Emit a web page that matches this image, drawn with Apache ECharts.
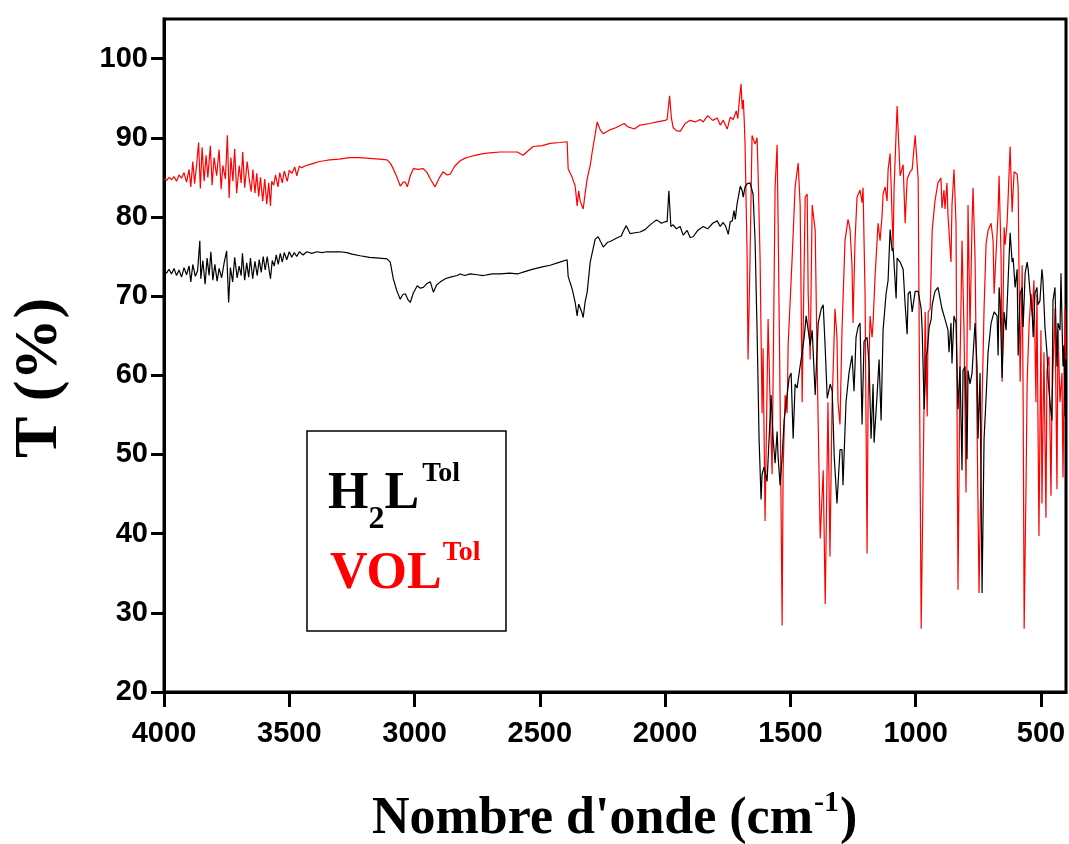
<!DOCTYPE html>
<html><head><meta charset="utf-8">
<script src="https://cdn.jsdelivr.net/npm/echarts@6/dist/echarts.min.js"></script>
<style>html,body{margin:0;padding:0;background:#fff}#c{width:1069px;height:844px}</style>
</head><body><div id="c"></div>
<script>
const xTickValues = [4000,3500,3000,2500,2000,1500,1000,500];
const yTickValues = [20,30,40,50,60,70,80,90,100];
const legendNames = ['H','2','L','Tol','VOL','Tol'];
const axisTitles = ["Nombre d'onde (cm", '-1', ')', 'T (%)'];

const h2lTol = [
[4000,73.2],[3990,72.9],[3980,73.4],[3970,72.8],[3960,73.5],[3950,72.6],[3940,73.3],[3930,72.4],[3920,73.6],[3910,72.7],[3900,73.8],[3893,71.8],[3885,74.0],[3875,72.5],[3866,73.2],[3857,77.0],[3853,72.2],[3845,74.5],[3836,71.5],[3828,74.8],[3820,72.6],[3813,75.6],[3805,72.0],[3797,74.0],[3788,71.9],[3780,73.5],[3770,72.3],[3760,74.2],[3750,75.7],[3742,69.2],[3735,73.6],[3726,71.8],[3718,74.9],[3708,72.3],[3700,73.8],[3692,72.6],[3687,75.4],[3678,72.0],[3670,74.2],[3662,72.4],[3655,74.8],[3646,72.2],[3637,74.4],[3628,72.6],[3620,74.6],[3612,73.0],[3604,75.0],[3596,73.3],[3588,75.0],[3580,73.2],[3575,72.2],[3568,74.5],[3560,73.8],[3552,75.2],[3544,74.0],[3536,75.4],[3528,74.3],[3520,75.5],[3510,74.6],[3500,75.6],[3490,74.9],[3480,75.5],[3470,75.0],[3460,75.6],[3445,75.2],[3430,75.6],[3410,75.4],[3390,75.6],[3370,75.5],[3350,75.6],[3320,75.6],[3297,75.6],[3270,75.5],[3250,75.3],[3217,75.1],[3180,74.9],[3140,74.8],[3110,74.7],[3097,74.3],[3085,72.2],[3070,70.6],[3057,69.6],[3047,70.2],[3037,70.3],[3027,69.6],[3017,69.2],[3005,70.4],[2989,71.3],[2977,71.0],[2965,71.1],[2950,71.6],[2937,71.8],[2925,70.5],[2912,71.4],[2897,71.8],[2877,72.2],[2857,72.4],[2830,72.6],[2818,72.8],[2800,72.6],[2778,72.8],[2750,72.7],[2726,72.6],[2690,72.8],[2658,72.8],[2620,72.9],[2590,72.8],[2560,73.1],[2527,73.4],[2490,73.7],[2459,73.9],[2420,74.3],[2391,74.6],[2387,72.5],[2371,70.9],[2359,69.2],[2351,67.5],[2345,69.0],[2339,69.2],[2333,68.0],[2327,67.3],[2319,69.3],[2311,70.5],[2299,74.3],[2279,77.2],[2267,77.5],[2247,76.2],[2230,76.8],[2219,76.9],[2195,77.3],[2175,77.6],[2167,78.2],[2155,78.9],[2140,77.9],[2120,78.0],[2100,78.1],[2080,78.4],[2060,79.0],[2040,79.5],[2032,79.6],[2015,79.2],[2000,79.4],[1992,79.4],[1985,83.3],[1977,78.8],[1968,79.0],[1955,78.5],[1940,78.8],[1928,77.7],[1912,78.3],[1900,77.4],[1888,77.5],[1870,78.3],[1848,78.8],[1830,78.5],[1810,79.2],[1792,79.5],[1780,78.8],[1768,79.3],[1758,78.8],[1748,77.8],[1740,79.4],[1732,79.5],[1725,80.8],[1720,79.7],[1713,81.6],[1708,81.5],[1700,83.9],[1693,83.4],[1688,82.5],[1681,83.8],[1672,84.2],[1661,84.3],[1649,82.9],[1641,77.1],[1633,65.7],[1625,52.0],[1617,44.3],[1613,47.5],[1605,48.4],[1593,46.6],[1585,52.0],[1577,57.5],[1569,52.0],[1561,48.9],[1553,52.9],[1549,49.7],[1541,46.1],[1533,49.7],[1525,54.3],[1513,57.5],[1505,59.7],[1497,60.3],[1489,52.0],[1481,58.9],[1473,58.4],[1465,60.3],[1453,62.9],[1445,64.8],[1437,67.5],[1429,65.7],[1421,63.8],[1413,65.7],[1401,57.5],[1389,66.6],[1377,68.4],[1369,68.9],[1361,63.4],[1353,57.1],[1341,58.9],[1333,58.0],[1325,49.7],[1314,43.8],[1302,50.6],[1294,50.6],[1290,46.1],[1278,56.6],[1266,60.3],[1254,62.5],[1246,58.0],[1238,64.8],[1230,66.1],[1222,66.6],[1214,53.8],[1206,64.3],[1194,64.8],[1186,61.5],[1178,52.0],[1170,58.9],[1166,51.5],[1154,57.5],[1146,62.0],[1138,54.3],[1130,65.7],[1118,70.3],[1110,72.0],[1102,78.4],[1094,75.7],[1090,76.1],[1078,69.7],[1074,74.8],[1062,74.3],[1050,73.4],[1042,68.9],[1034,65.2],[1030,70.3],[1022,70.6],[1014,68.0],[1002,70.6],[990,70.6],[978,68.4],[974,65.7],[966,55.7],[958,62.5],[954,62.9],[946,66.1],[938,67.1],[934,68.9],[923,70.6],[911,71.1],[895,68.4],[883,67.1],[871,65.7],[867,62.9],[859,66.6],[855,61.5],[847,67.5],[839,66.6],[831,55.7],[823,61.1],[815,48.0],[811,60.6],[803,61.1],[795,49.4],[791,60.6],[783,58.9],[775,60.3],[771,62.5],[763,66.6],[755,61.1],[751,52.0],[743,60.3],[735,32.5],[727,52.0],[719,57.1],[711,62.9],[699,66.6],[687,68.0],[675,67.5],[671,62.5],[667,71.1],[663,69.4],[655,59.7],[647,68.0],[639,65.7],[631,72.0],[623,78.0],[615,74.3],[611,74.8],[603,71.1],[595,73.4],[591,62.5],[583,70.3],[575,71.1],[571,66.1],[563,72.9],[555,74.3],[551,73.4],[543,70.3],[535,68.0],[531,64.8],[524,70.3],[516,71.1],[512,68.9],[504,69.4],[496,73.4],[492,72.0],[484,66.1],[476,62.9],[472,59.7],[464,56.6],[456,54.3],[452,69.4],[444,71.1],[436,61.1],[432,66.6],[424,65.7],[420,72.9],[412,61.1],[408,63.8],[404,54.8],[400,57.0]
];

const volTol = [
[4000,84.8],[3990,84.6],[3980,85.0],[3970,84.7],[3960,85.1],[3950,84.5],[3940,85.3],[3930,84.9],[3920,85.6],[3910,84.4],[3900,86.0],[3893,83.8],[3885,87.0],[3878,84.2],[3870,86.5],[3862,89.4],[3855,83.6],[3848,88.8],[3840,84.5],[3832,87.8],[3825,85.0],[3815,89.0],[3808,84.0],[3800,87.5],[3790,85.2],[3780,88.5],[3772,83.5],[3765,86.5],[3755,84.8],[3747,90.3],[3740,82.4],[3733,87.5],[3725,84.5],[3718,88.6],[3710,83.0],[3700,86.5],[3692,84.3],[3686,88.2],[3678,83.7],[3668,87.0],[3660,84.8],[3652,83.2],[3645,86.0],[3637,83.0],[3630,85.5],[3622,82.6],[3615,85.0],[3606,82.0],[3598,84.8],[3590,81.6],[3582,84.3],[3575,81.4],[3570,84.5],[3562,84.0],[3555,85.3],[3545,83.8],[3538,85.6],[3528,84.3],[3520,85.8],[3508,84.5],[3500,85.9],[3490,85.5],[3478,86.3],[3470,85.2],[3460,86.4],[3450,86.2],[3440,86.4],[3420,86.6],[3400,86.8],[3380,87.0],[3360,87.1],[3340,87.2],[3300,87.3],[3260,87.5],[3220,87.5],[3180,87.4],[3140,87.3],[3110,87.2],[3097,86.8],[3085,86.1],[3070,85.0],[3057,83.9],[3045,84.4],[3037,84.4],[3029,83.8],[3017,85.2],[3005,86.1],[2985,86.0],[2965,86.1],[2950,85.6],[2937,84.8],[2918,83.8],[2900,85.0],[2886,85.7],[2870,85.3],[2858,85.4],[2840,86.4],[2818,87.1],[2800,87.4],[2780,87.6],[2755,87.8],[2726,88.0],[2700,88.1],[2658,88.2],[2620,88.2],[2590,88.2],[2567,87.8],[2527,88.9],[2490,89.0],[2459,89.3],[2420,89.4],[2391,89.5],[2387,86.1],[2371,85.0],[2359,83.9],[2351,81.4],[2345,83.3],[2339,82.0],[2327,81.0],[2319,83.0],[2311,84.8],[2299,86.5],[2291,88.2],[2271,92.0],[2259,91.0],[2247,90.5],[2220,91.0],[2195,91.3],[2163,91.8],[2150,91.4],[2123,91.1],[2100,91.6],[2060,91.8],[2032,92.0],[2000,92.2],[1992,92.3],[1982,95.3],[1975,92.5],[1968,91.3],[1955,90.9],[1940,90.8],[1920,91.8],[1900,92.2],[1880,92.0],[1860,92.3],[1848,92.0],[1830,92.8],[1810,92.2],[1792,92.5],[1780,91.6],[1768,92.2],[1752,91.1],[1740,92.6],[1728,92.3],[1716,93.4],[1710,92.4],[1704,94.6],[1697,96.8],[1692,93.6],[1688,94.8],[1684,92.0],
[1681,89.2],[1673,75.7],[1669,62.0],[1661,74.8],[1653,90.3],[1641,89.2],[1633,90.0],[1629,85.7],[1621,74.8],[1613,55.2],[1609,63.4],[1601,41.6],[1589,67.1],[1581,56.6],[1573,47.5],[1561,83.8],[1553,89.1],[1549,79.2],[1541,56.6],[1533,28.4],[1529,48.0],[1521,57.5],[1513,55.2],[1509,63.8],[1493,74.8],[1481,83.8],[1469,86.8],[1461,81.5],[1453,56.6],[1449,65.7],[1441,82.5],[1433,82.9],[1429,70.3],[1421,62.0],[1413,81.5],[1409,81.5],[1401,78.3],[1393,61.1],[1381,39.4],[1369,48.0],[1361,31.1],[1350,56.6],[1342,37.1],[1334,55.7],[1322,68.4],[1314,64.8],[1310,56.6],[1302,53.8],[1294,65.7],[1282,77.0],[1270,79.7],[1262,78.5],[1254,73.8],[1250,66.6],[1242,77.0],[1234,82.5],[1222,83.4],[1214,81.8],[1210,83.7],[1202,70.3],[1194,37.5],[1190,56.6],[1182,67.5],[1174,64.8],[1170,66.6],[1162,72.5],[1150,79.2],[1142,77.0],[1134,80.2],[1130,82.9],[1122,83.8],[1114,82.0],[1110,86.0],[1102,88.0],[1090,76.0],[1086,83.8],[1074,94.0],[1062,85.2],[1050,86.6],[1042,79.2],[1034,84.8],[1022,85.7],[1014,86.0],[1002,90.3],[990,84.8],[986,65.7],[978,28.0],[970,47.5],[962,68.0],[954,54.8],[950,68.0],[942,68.4],[934,78.3],[923,82.0],[911,84.3],[899,84.9],[895,81.1],[887,83.4],[883,81.0],[875,84.3],[871,80.2],[859,74.3],[855,81.5],[847,86.0],[839,79.2],[831,32.9],[823,61.1],[815,77.0],[807,65.7],[799,45.2],[791,81.5],[783,65.7],[775,79.2],[771,83.7],[763,74.8],[747,32.5],[735,56.6],[727,68.4],[719,76.6],[711,78.3],[699,79.2],[691,77.0],[687,70.3],[671,80.6],[667,85.2],[659,74.8],[655,59.2],[647,78.7],[643,76.5],[635,79.2],[623,88.9],[615,80.6],[607,85.7],[595,85.4],[591,83.8],[583,59.2],[575,73.9],[571,56.6],[567,28.0],[559,47.5],[555,59.2],[547,66.6],[539,70.3],[535,67.5],[528,72.0],[520,56.6],[516,70.3],[508,39.7],[500,65.7],[496,43.8],[488,62.9],[480,42.0],[476,60.6],[468,62.4],[460,44.8],[456,56.6],[444,68.4],[436,45.6],[432,65.7],[424,56.6],[416,60.3],[412,47.1],[404,68.4],[400,62.0]
];

const serif = '"Liberation Serif","Times New Roman",serif';
const sans = '"Liberation Sans",Arial,sans-serif';
const mctx = document.createElement('canvas').getContext('2d');
function tw(t, size){ mctx.font = 'bold ' + size + 'px ' + serif; return mctx.measureText(t).width; }
function txt(t, x, y, size, color, extra){
  return Object.assign({type:'text', x:x, y:y, z:100, style:{text:t, fill:color, font:'bold '+size+'px '+serif,
    align:'left', verticalAlign:'middle', textAlign:'left', textVerticalAlign:'middle'}}, extra||{});
}
const big = 52, sub = 32, sup = 28;
let lx = 328;
const g = [];
g.push({type:'rect', shape:{x:307,y:431,width:199,height:200}, style:{fill:'#fff', stroke:'#000', lineWidth:1.5}, z:90});
g.push(txt(legendNames[0], lx, 495, big, '#000')); lx += tw(legendNames[0], big);
g.push(txt(legendNames[1], lx, 520, sub, '#000')); lx += tw(legendNames[1], sub);
g.push(txt(legendNames[2], lx, 495, big, '#000')); lx += tw(legendNames[2], big) + 3;
g.push(txt(legendNames[3], lx, 474, sup, '#000'));
let vx = 330;
g.push(txt(legendNames[4], vx, 575, big, '#ff0000')); vx += tw(legendNames[4], big) + 1;
g.push(txt(legendNames[5], vx, 553, sup, '#ff0000'));
// x axis title
const tsz = 52;
let ax = 372;
g.push(txt(axisTitles[0], ax, 820, tsz, '#000')); ax += tw(axisTitles[0], tsz) + 1;
g.push(txt(axisTitles[1], ax, 803, 30, '#000')); ax += tw(axisTitles[1], 30) + 1;
g.push(txt(axisTitles[2], ax, 820, tsz, '#000'));
// y axis title
g.push({type:'text', x:40, y:378, rotation:Math.PI/2, z:100, style:{text:axisTitles[3], fill:'#000', font:'bold 62px '+serif,
  align:'center', verticalAlign:'middle', textAlign:'center', textVerticalAlign:'middle'}});

const chart = echarts.init(document.getElementById('c'), null, {renderer:'canvas'});
chart.setOption({
  animation:false,
  backgroundColor:'#fff',
  grid:{left:164, right:3, top:19, bottom:152, show:true, borderColor:'#000', borderWidth:3, backgroundColor:'transparent'},
  xAxis:{type:'value', inverse:true, min:400, max:4000,
    axisLine:{show:true, onZero:false, lineStyle:{color:'#000', width:3}},
    axisTick:{show:true, inside:false, length:15, lineStyle:{color:'#000', width:3}, customValues:xTickValues},
    axisLabel:{customValues:xTickValues, margin:27, color:'#000', fontFamily:sans, fontWeight:'bold', fontSize:29,
      formatter:function(v){ return String(v); }},
    splitLine:{show:false}},
  yAxis:{type:'value', min:20, max:105,
    axisLine:{show:true, onZero:false, lineStyle:{color:'#000', width:3}},
    axisTick:{show:true, inside:false, length:13, lineStyle:{color:'#000', width:3}, customValues:yTickValues},
    axisLabel:{customValues:yTickValues, margin:16, color:'#000', fontFamily:sans, fontWeight:'bold', fontSize:29,
      formatter:function(v){ return String(v); }},
    splitLine:{show:false}},
  series:[
    {name:'VOL', type:'line', data:volTol, showSymbol:false, symbol:'none', lineStyle:{color:'#ff0000', width:1.2}, itemStyle:{color:'#ff0000'}, z:2},
    {name:'H2L', type:'line', data:h2lTol, showSymbol:false, symbol:'none', lineStyle:{color:'#000', width:1.2}, itemStyle:{color:'#000'}, z:3}
  ],
  graphic:g
});
</script></body></html>
